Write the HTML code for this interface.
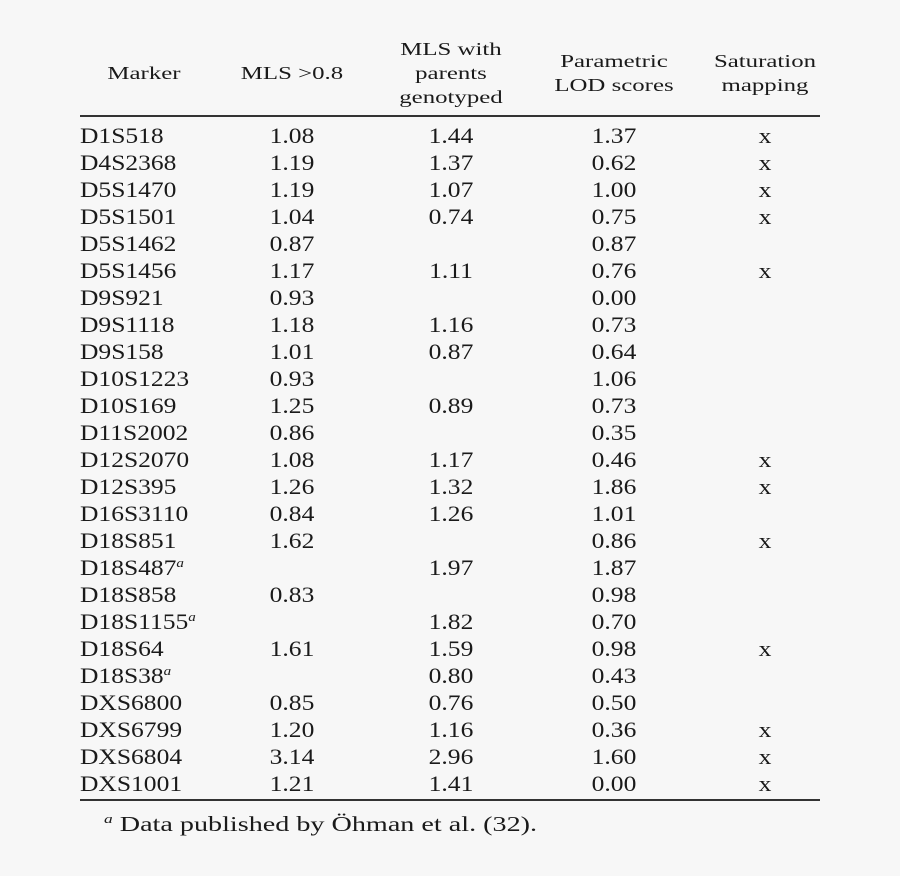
<!DOCTYPE html>
<html><head><meta charset="utf-8"><style>
body{margin:0;background:#f7f7f7;}
#c{position:relative;width:900px;height:876px;font-family:"Liberation Serif",serif;color:#1a1a1a;}
.h{position:absolute;font-size:18px;line-height:24px;text-align:center;transform:scaleX(1.38);transform-origin:center;}
.r{position:absolute;left:0;width:900px;height:27px;font-size:22px;line-height:27px;}
.r span{position:absolute;top:0;transform:scaleX(1.16);transform-origin:center;}
.m{left:80px;transform-origin:left !important;}
.a{left:242px;width:100px;text-align:center;}
.b{left:401px;width:100px;text-align:center;}
.p{left:564px;width:100px;text-align:center;}
.s{left:715px;width:100px;text-align:center;}
sup{font-size:13px;font-style:italic;vertical-align:8px;line-height:0;}
.ln{position:absolute;left:80px;width:740px;height:2px;background:#333;}
</style></head><body><div id="c">
<div class="h" style="left:84px;width:120px;top:61px">Marker</div>
<div class="h" style="left:232px;width:120px;top:61px">MLS &gt;0.8</div>
<div class="h" style="left:391px;width:120px;top:37px">MLS with<br>parents<br>genotyped</div>
<div class="h" style="left:554px;width:120px;top:49px">Parametric<br>LOD scores</div>
<div class="h" style="left:705px;width:120px;top:49px">Saturation<br>mapping</div>
<div class="ln" style="top:115px"></div>
<div class="ln" style="top:799px"></div>
<div id="rows"></div>
<div style="position:absolute;left:104px;top:811px;font-size:21px;line-height:27px;transform:scaleX(1.34);transform-origin:left;white-space:nowrap"><sup>a</sup> Data published by Öhman et al. (32).</div>
</div>
<script>
var d=[["D1S518","1.08","1.44","1.37","x"],["D4S2368","1.19","1.37","0.62","x"],["D5S1470","1.19","1.07","1.00","x"],["D5S1501","1.04","0.74","0.75","x"],["D5S1462","0.87","","0.87",""],["D5S1456","1.17","1.11","0.76","x"],["D9S921","0.93","","0.00",""],["D9S1118","1.18","1.16","0.73",""],["D9S158","1.01","0.87","0.64",""],["D10S1223","0.93","","1.06",""],["D10S169","1.25","0.89","0.73",""],["D11S2002","0.86","","0.35",""],["D12S2070","1.08","1.17","0.46","x"],["D12S395","1.26","1.32","1.86","x"],["D16S3110","0.84","1.26","1.01",""],["D18S851","1.62","","0.86","x"],["D18S487<sup>a</sup>","","1.97","1.87",""],["D18S858","0.83","","0.98",""],["D18S1155<sup>a</sup>","","1.82","0.70",""],["D18S64","1.61","1.59","0.98","x"],["D18S38<sup>a</sup>","","0.80","0.43",""],["DXS6800","0.85","0.76","0.50",""],["DXS6799","1.20","1.16","0.36","x"],["DXS6804","3.14","2.96","1.60","x"],["DXS1001","1.21","1.41","0.00","x"]];
var h="";d.forEach(function(r,i){h+='<div class="r" style="top:'+(122+i*27)+'px"><span class="m">'+r[0]+'</span><span class="a">'+r[1]+'</span><span class="b">'+r[2]+'</span><span class="p">'+r[3]+'</span><span class="s">'+r[4]+'</span></div>';});
document.getElementById("rows").innerHTML=h;
</script>
</body></html>
